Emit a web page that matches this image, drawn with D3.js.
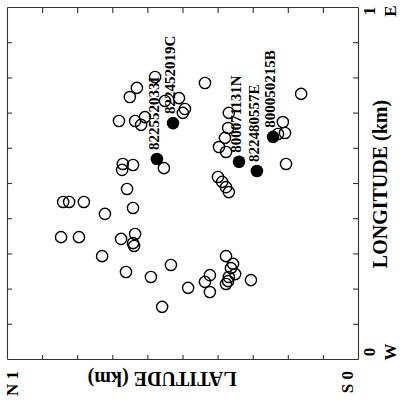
<!DOCTYPE html>
<html>
<head>
<meta charset="utf-8">
<script src="https://cdn.jsdelivr.net/npm/d3@7"></script>
<style>
  body { margin: 0; background: #fff; }
  svg { display: block; background: #fff; }
  text { font-family: "Liberation Serif", "DejaVu Serif", serif; fill: #000; }
</style>
</head>
<body>
<svg id="chart" width="400" height="413"></svg>
<script>
// --- Epicentres in km: longitude (W -> E), latitude (S -> N) ---
const openLon = [0.804, 0.773, 0.747, 0.679, 0.679, 0.668, 0.690, 0.736, 0.744, 0.713,
                 0.702, 0.787, 0.756, 0.557, 0.540, 0.554, 0.545, 0.486, 0.432, 0.449,
                 0.449, 0.449, 0.415, 0.349, 0.349, 0.344, 0.358, 0.332, 0.324, 0.295,
                 0.250, 0.236, 0.270, 0.151, 0.702, 0.659, 0.631, 0.605, 0.591, 0.520,
                 0.506, 0.491, 0.477, 0.642, 0.676, 0.645, 0.557, 0.295, 0.273, 0.261,
                 0.244, 0.236, 0.224, 0.216, 0.241, 0.222, 0.193, 0.205, 0.227];
const openLat = [0.578, 0.630, 0.650, 0.681, 0.635, 0.618, 0.607, 0.550, 0.510, 0.493,
                 0.499, 0.436, 0.162, 0.670, 0.672, 0.641, 0.553, 0.658, 0.641, 0.840,
                 0.823, 0.781, 0.721, 0.846, 0.795, 0.675, 0.635, 0.641, 0.638, 0.729,
                 0.661, 0.590, 0.533, 0.558, 0.368, 0.370, 0.379, 0.396, 0.376, 0.399,
                 0.387, 0.376, 0.368, 0.228, 0.214, 0.208, 0.205, 0.376, 0.356, 0.362,
                 0.350, 0.368, 0.370, 0.376, 0.422, 0.436, 0.422, 0.484, 0.305];

// --- Labelled events (filled) ---
const eventIds = ["822452019C", "822552033I", "800071131N", "822480557E", "800050215B"];
const eventLon = [0.673, 0.571, 0.563, 0.537, 0.634];
const eventLat = [0.527, 0.573, 0.339, 0.288, 0.242];

// --- Tick marks and axis end labels ---
const tickValues = [0.1, 0.2, 0.3, 0.4, 0.5, 0.6, 0.7, 0.8, 0.9];
const lonEndLabels = ["0", "1"];
const lonDirLabels = ["W", "E"];
const latEndLabels = ["S 0", "N 1"];

const openPts = openLon.map((lon, i) => ({lon: lon, lat: openLat[i]}));
const events = eventIds.map((id, i) => ({id: id, lon: eventLon[i], lat: eventLat[i]}));

// --- Frame: the whole map is drawn turned a quarter turn to the left ---
const svg = d3.select("#chart"),
      margin = {top: 8, right: 42, bottom: 53, left: 7},
      plotW = +svg.attr("height") - margin.top - margin.bottom,   // longitude length
      plotH = +svg.attr("width") - margin.left - margin.right;    // latitude length

const g = svg.append("g")
             .attr("transform", `translate(${margin.left},${margin.top + plotW}) rotate(-90)`);

const x = d3.scaleLinear().domain([0, 1]).range([0, plotW]);
const y = d3.scaleLinear().domain([0, 1]).range([plotH, 0]);

// --- Axes on all four sides, ticks inward ---
const axes = [
  {gen: d3.axisBottom(x), at: `translate(0,${plotH})`},
  {gen: d3.axisTop(x), at: null},
  {gen: d3.axisLeft(y), at: null},
  {gen: d3.axisRight(y), at: `translate(${plotW},0)`}
];
axes.forEach(a => {
  const ax = g.append("g")
    .call(a.gen.tickValues(tickValues).tickSizeInner(-5).tickSizeOuter(0).tickFormat(""));
  if (a.at) ax.attr("transform", a.at);
  ax.selectAll("path, line").attr("stroke", "#333").attr("stroke-width", 1.1);
});

// --- Longitude end labels (0 / 1, W / E) ---
g.selectAll("text.lonEnd")
  .data(lonEndLabels)
  .enter().append("text")
    .attr("class", "lonEnd")
    .attr("x", (d, i) => x(i) + (i === 0 ? 8 : -3))
    .attr("y", plotH + 17)
    .attr("text-anchor", "middle")
    .style("font-size", "17px")
    .style("font-weight", "bold")
    .text(d => d);

g.selectAll("text.lonDir")
  .data(lonDirLabels)
  .enter().append("text")
    .attr("class", "lonDir")
    .attr("x", (d, i) => x(i) + (i === 0 ? 8 : -3))
    .attr("y", plotH + 38)
    .attr("text-anchor", "middle")
    .style("font-size", "17px")
    .style("font-weight", "bold")
    .text(d => d);

g.append("text")
  .attr("x", plotW / 2)
  .attr("y", plotH + 29)
  .attr("text-anchor", "middle")
  .style("font-size", "20px")
  .style("font-weight", "bold")
  .text("LONGITUDE (km)");

// --- Latitude end labels (S 0 / N 1) ---
g.selectAll("text.latEnd")
  .data(latEndLabels)
  .enter().append("text")
    .attr("class", "latEnd")
    .attr("x", -11)
    .attr("y", (d, i) => y(i) + (i === 0 ? -5 : 11))
    .attr("text-anchor", "end")
    .style("font-size", "17px")
    .style("font-weight", "bold")
    .text(d => d);

g.append("text")
  .attr("transform", `translate(-12,${y(0.558)}) rotate(-90)`)
  .attr("text-anchor", "middle")
  .style("font-size", "20px")
  .style("font-weight", "bold")
  .text("LATITUDE (km)");

// --- Open circles ---
g.selectAll("circle.open")
  .data(openPts)
  .enter().append("circle")
    .attr("class", "open")
    .attr("cx", d => x(d.lon))
    .attr("cy", d => y(d.lat))
    .attr("r", 5.6)
    .attr("fill", "none")
    .attr("stroke", "#000")
    .attr("stroke-width", 1.4);

// --- Filled events with their ids ---
g.selectAll("circle.event")
  .data(events)
  .enter().append("circle")
    .attr("class", "event")
    .attr("cx", d => x(d.lon))
    .attr("cy", d => y(d.lat))
    .attr("r", 6.3)
    .attr("fill", "#000");

g.selectAll("text.eventId")
  .data(events)
  .enter().append("text")
    .attr("class", "eventId")
    .attr("x", d => x(d.lon) + 9)
    .attr("y", d => y(d.lat) + 2)
    .style("font-size", "15px")
    .style("font-weight", "bold")
    .text(d => d.id);
</script>
</body>
</html>
